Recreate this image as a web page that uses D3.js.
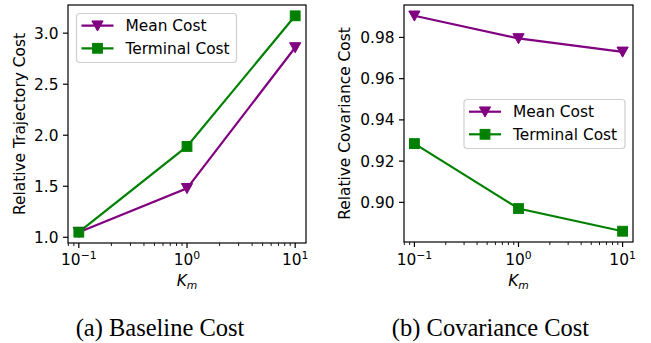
<!DOCTYPE html>
<html><head><meta charset="utf-8">
<script src="https://cdn.jsdelivr.net/npm/d3@7"></script>
<style>body{margin:0;background:#fff}svg{display:block}</style>
</head><body>
<svg id="c" width="651" height="343"></svg>
<script>
const kValues = [0.1, 1, 10];
const xTickValues = [0.1, 1, 10];
const xTickExps = ["\u22121", "0", "1"];
const baselineMean = [1.05, 1.48, 2.86];
const baselineTerminal = [1.05, 1.89, 3.17];
const covMean = [0.9905, 0.9795, 0.973];
const covTerminal = [0.9285, 0.897, 0.886];
const baselineYTicks = [1.0, 1.5, 2.0, 2.5, 3.0];
const covYTicks = [0.90, 0.92, 0.94, 0.96, 0.98];
const seriesNames = ["Mean Cost", "Terminal Cost"];
const captions = ["(a) Baseline Cost", "(b) Covariance Cost"];
const yLabels = ["Relative Trajectory Cost", "Relative Covariance Cost"];

const colors = ["#800080", "#008000"];
const svg = d3.select("#c");
const FONT = "DejaVu Sans, sans-serif";
const FS = 15.4;

const panels = [
  {box:{x0:68,x1:306,y0:5,y1:243}, series:[baselineMean, baselineTerminal], yTicks:baselineYTicks, fmt:d3.format(".1f"),
   yLabel:yLabels[0], yLabelX:20, legend:{x:76.5,y:13.5,w:160,h:49}, caption:captions[0], capX:160},
  {box:{x0:404,x1:633,y0:5,y1:242}, series:[covMean, covTerminal], yTicks:covYTicks, fmt:d3.format(".2f"),
   yLabel:yLabels[1], yLabelX:345, legend:{x:464,y:99.5,w:161,h:49}, caption:captions[1], capX:490.5}
];

function marker(g, type, cx, cy, color){
  if(type===0){
    const s=5.6;
    g.append("path").attr("d",`M${cx-s},${cy-s*0.85}L${cx+s},${cy-s*0.85}L${cx},${cy+s*0.95}Z`).attr("fill",color).attr("stroke",color).attr("stroke-width",1);
  } else {
    const s=4.9;
    g.append("rect").attr("x",cx-s).attr("y",cy-s).attr("width",2*s).attr("height",2*s).attr("fill",color).attr("stroke",color).attr("stroke-width",1);
  }
}

panels.forEach(p=>{
  const b=p.box;
  const x=d3.scaleLog().domain([Math.pow(10,-1.1),Math.pow(10,1.1)]).range([b.x0,b.x1]);
  const all=p.series.flat();
  const mn=d3.min(all), mx=d3.max(all), m=(mx-mn)*0.05;
  const y=d3.scaleLinear().domain([mn-m,mx+m]).range([b.y1,b.y0]);
  const g=svg.append("g");

  // minor ticks
  const minors=[];
  for(let e=-2;e<=1;e++) for(let k=2;k<=9;k++){const v=k*Math.pow(10,e); if(v>=x.domain()[0]&&v<=x.domain()[1]) minors.push(v);}
  g.selectAll(".mn").data(minors).enter().append("line")
    .attr("x1",d=>x(d)).attr("x2",d=>x(d)).attr("y1",b.y1).attr("y2",b.y1+3).attr("stroke","#000").attr("stroke-width",0.9);
  // major x ticks
  g.selectAll(".mj").data(xTickValues).enter().append("line")
    .attr("x1",d=>x(d)).attr("x2",d=>x(d)).attr("y1",b.y1).attr("y2",b.y1+5).attr("stroke","#000").attr("stroke-width",1.2);
  xTickValues.forEach((v,i)=>{
    const t=g.append("text").attr("x",x(v)).attr("y",265).attr("text-anchor","middle")
      .attr("font-family",FONT).attr("font-size",FS).attr("fill","#000");
    t.append("tspan").text("10");
    t.append("tspan").attr("dy",-6).attr("font-size",10.8).text(xTickExps[i]);
  });
  // y ticks
  p.yTicks.forEach(v=>{
    g.append("line").attr("x1",b.x0-5).attr("x2",b.x0).attr("y1",y(v)).attr("y2",y(v)).attr("stroke","#000").attr("stroke-width",1.2);
    g.append("text").attr("x",b.x0-9.5).attr("y",y(v)).attr("dy","0.36em").attr("text-anchor","end")
      .attr("font-family",FONT).attr("font-size",FS).attr("fill","#000").text(p.fmt(v));
  });
  // lines
  p.series.forEach((s,si)=>{
    const line=d3.line().x((d,i)=>x(kValues[i])).y(d=>y(d));
    g.append("path").datum(s).attr("d",line).attr("fill","none").attr("stroke",colors[si]).attr("stroke-width",2.2);
  });
  p.series.forEach((s,si)=>{
    s.forEach((d,i)=>marker(g,si,x(kValues[i]),y(d),colors[si]));
  });
  // frame
  g.append("rect").attr("x",b.x0).attr("y",b.y0).attr("width",b.x1-b.x0).attr("height",b.y1-b.y0)
    .attr("fill","none").attr("stroke","#000").attr("stroke-width",1.2);
  // legend
  const L=p.legend;
  g.append("rect").attr("x",L.x).attr("y",L.y).attr("width",L.w).attr("height",L.h).attr("rx",3)
    .attr("fill","rgba(255,255,255,0.8)").attr("stroke","#d0d0d0").attr("stroke-width",1.2);
  seriesNames.forEach((n,i)=>{
    const cy=L.y+12.2+i*22.6;
    g.append("line").attr("x1",L.x+5).attr("x2",L.x+37).attr("y1",cy).attr("y2",cy).attr("stroke",colors[i]).attr("stroke-width",2.2);
    marker(g,i,L.x+21,cy,colors[i]);
    g.append("text").attr("x",L.x+49).attr("y",cy).attr("dy","0.36em").attr("font-family",FONT).attr("font-size",FS).attr("fill","#000").text(n);
  });
  // axis labels
  const cxm=(b.x0+b.x1)/2;
  const kl=g.append("text").attr("x",cxm).attr("y",286).attr("text-anchor","middle").attr("font-family",FONT).attr("font-size",FS).attr("fill","#000");
  kl.append("tspan").attr("font-style","italic").text("K");
  kl.append("tspan").attr("font-style","italic").attr("font-size",10.8).attr("dy",2.5).text("m");
  g.append("text").attr("transform",`translate(${p.yLabelX},${(b.y0+b.y1)/2}) rotate(-90)`).attr("dy","0.35em")
    .attr("text-anchor","middle").attr("font-family",FONT).attr("font-size",FS).attr("fill","#000").text(p.yLabel);
  // caption
  svg.append("text").attr("x",p.capX).attr("y",336).attr("text-anchor","middle").attr("font-family","Liberation Serif, Times New Roman, serif")
    .attr("font-size",24.5).attr("fill","#000").text(p.caption);
});
</script>
</body></html>
